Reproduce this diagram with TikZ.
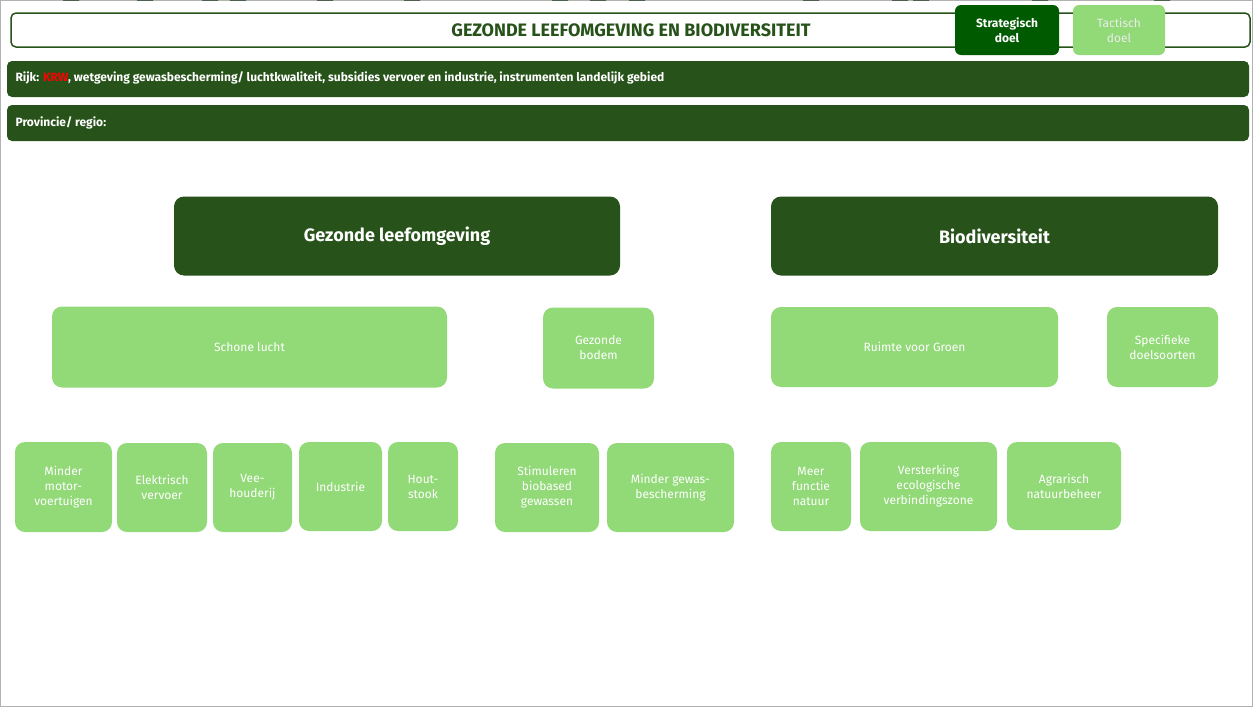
\documentclass[tikz,border=0pt]{standalone}
\usepackage{fontspec}
\setmainfont{Fira Sans}
\usetikzlibrary{calc}
\definecolor{donker}{HTML}{27521A}
\definecolor{strat}{HTML}{005A00}
\definecolor{licht}{HTML}{92D978}
\definecolor{pijl}{HTML}{2E7D24}
\definecolor{rand}{HTML}{1F3A1F}
\tikzset{
	doel/.style={rounded corners=10pt, fill=donker, text=white, font=\bfseries\fontsize{18}{20}\selectfont, align=center},
	sub/.style={rounded corners=10pt, fill=licht, text=white, font=\fontsize{12}{15}\selectfont, align=center},
	balk/.style={rounded corners=5pt, fill=donker, text=white, font=\bfseries\fontsize{12}{14}\selectfont, anchor=west},
	barrow/.style={fill=pijl, draw=rand, line width=1pt},
}
% block arrow at x from one node to another
\newcommand{\blockarrow}[3]{\draw[barrow] let \p1=(#2.south), \p2=(#3.north) in
	($(#1,0)+(-4pt,0)$ |- 0,\y1) -- ($(#1,0)+(4pt,0)$ |- 0,\y1) -- ($(#1,0)+(4pt,0)$ |- 0,\y2+10pt) -- ($(#1,0)+(8pt,0)$ |- 0,\y2+10pt)
	-- ($(#1,0)$ |- 0,\y2) -- ($(#1,0)+(-8pt,0)$ |- 0,\y2+10pt) -- ($(#1,0)+(-4pt,0)$ |- 0,\y2+10pt) -- cycle;}
\newcommand{\vak}[5]{\node[#1, minimum width=#4pt, minimum height=#5pt] (#2) at (#3) {};}
\begin{document}
\begin{tikzpicture}[x=1pt,y=-1pt]
	\draw[gray!60, fill=white] (0.5,0.5) rectangle (1252.5,706.5);
	\useasboundingbox (0,0) rectangle (1253,707);

	%header
	\draw[donker, line width=1.5pt, rounded corners=5pt] (11,13) rectangle (1250,47);
	\node[text=donker, font=\bfseries\fontsize{18}{20}\selectfont] (titel) at (631,30) {GEZONDE LEEFOMGEVING EN BIODIVERSITEIT};
	\node[rounded corners=6pt, fill=strat, text=white, font=\bfseries\fontsize{12}{15}\selectfont, align=center, minimum width=104pt, minimum height=50pt] (strat) at (1007,30) {Strategisch\\doel};
	\node[rounded corners=6pt, fill=licht, text=white!85!gray, font=\fontsize{12}{15}\selectfont, align=center, minimum width=92pt, minimum height=50pt] (tact) at (1119,30) {Tactisch\\doel};

	%bars
	\fill[donker, rounded corners=5pt] (7,61) rectangle (1249,97);
	\node[balk] (rijk) at (12,78) {Rijk: \textcolor{red}{KRW}, wetgeving gewasbescherming/ luchtkwaliteit, subsidies vervoer en industrie, instrumenten landelijk gebied};
	\fill[donker, rounded corners=5pt] (7,105) rectangle (1249,141);
	\node[balk] (prov) at (12,123) {Provincie/ regio:};

	%main goals
	\node[doel, minimum width=446pt, minimum height=79pt] (gezond) at (397,236) {Gezonde leefomgeving};
	\node[doel, minimum width=447pt, minimum height=79pt] (bio) at (994.5,236) {Biodiversiteit};

	%second row
	\node[sub, minimum width=395pt, minimum height=81pt] (lucht) at (249.5,347) {Schone lucht};
	\node[sub, minimum width=111pt, minimum height=81pt] (bodem) at (598.5,348) {Gezonde\\bodem};
	\node[sub, minimum width=287pt, minimum height=80pt] (groen) at (914.5,347) {Ruimte voor Groen};
	\node[sub, minimum width=111pt, minimum height=80pt] (soort) at (1162.5,347) {Specifieke\\doelsoorten};

	%third row
	\node[sub, minimum width=97pt, minimum height=90pt] (motor) at (63.5,487) {Minder\\motor-\\voertuigen};
	\node[sub, minimum width=90pt, minimum height=89pt] (elek) at (162,487.5) {Elektrisch\\vervoer};
	\node[sub, minimum width=79pt, minimum height=89pt] (vee) at (252.5,487.5) {Vee-\\houderij};
	\node[sub, minimum width=83pt, minimum height=89pt] (ind) at (340.5,486.5) {Industrie};
	\node[sub, minimum width=70pt, minimum height=89pt] (hout) at (423,486.5) {Hout-\\stook};
	\node[sub, minimum width=104pt, minimum height=89pt] (biob) at (547,487.5) {Stimuleren\\biobased\\gewassen};
	\node[sub, minimum width=127pt, minimum height=89pt] (gewas) at (670.5,487.5) {Minder gewas-\\bescherming};
	\node[sub, minimum width=80pt, minimum height=89pt] (natuur) at (811,486.5) {Meer\\functie\\natuur};
	\node[sub, minimum width=137pt, minimum height=89pt] (zone) at (928.5,486.5) {Versterking\\ecologische\\verbindingszone};
	\node[sub, minimum width=114pt, minimum height=88pt] (agr) at (1064,486) {Agrarisch\\natuurbeheer};

	%arrows
	\blockarrow{210}{gezond}{lucht}
	\blockarrow{598}{gezond}{bodem}
	\blockarrow{900}{bio}{groen}
	\blockarrow{1162}{bio}{soort}
	\blockarrow{71}{lucht}{motor}
	\blockarrow{145}{lucht}{elek}
	\blockarrow{238}{lucht}{vee}
	\blockarrow{325}{lucht}{ind}
	\blockarrow{412}{lucht}{hout}
	\blockarrow{560}{bodem}{biob}
	\blockarrow{637}{bodem}{gewas}
	\blockarrow{811}{groen}{natuur}
	\blockarrow{921}{groen}{zone}
	\blockarrow{1040}{groen}{agr}
\end{tikzpicture}
\end{document}
